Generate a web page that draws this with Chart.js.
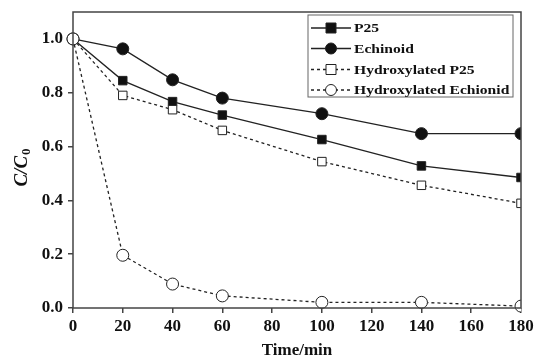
<!DOCTYPE html>
<html>
<head>
<meta charset="utf-8">
<script src="https://cdn.jsdelivr.net/npm/chart.js@4.4.0/dist/chart.umd.min.js"></script>
<style>
  html, body { margin: 0; padding: 0; background: #fff; }
  #wrap { width: 534px; height: 361px; position: relative; }
</style>
</head>
<body>
<div id="wrap"><canvas id="degradationChart"></canvas></div>
<script>
// Time points (min)
const timeMin = [0, 20, 40, 60, 100, 140, 180];

// C/C0 values
const p25 = [1.0, 0.845, 0.767, 0.717, 0.626, 0.528, 0.485];
const echinoid = [1.0, 0.963, 0.848, 0.78, 0.722, 0.648, 0.648];
const hydroxylatedP25 = [1.0, 0.79, 0.737, 0.66, 0.544, 0.456, 0.389];
const hydroxylatedEchionid = [1.0, 0.196, 0.089, 0.045, 0.021, 0.021, 0.007];

const yTicks = [0, 0.2, 0.4, 0.6, 0.8, 1.0];
const xTicks = [0, 20, 40, 60, 80, 100, 120, 140, 160, 180];

const seriesLabels = ['P25', 'Echinoid', 'Hydroxylated P25', 'Hydroxylated Echionid'];

const SERIF = '"Liberation Serif", "DejaVu Serif", serif';
const AXIS_COLOR = '#444';

/**
 * Build one dataset
 */
function makeDataset(label, values, style, fill, dashed, order) {
  return {
    label: label,
    data: timeMin.map((t, i) => ({ x: t, y: values[i] })),
    borderColor: '#222',
    borderWidth: 1.3,
    borderDash: dashed ? [3, 3] : [],
    pointStyle: style,
    pointRadius: 6,
    pointBackgroundColor: fill,
    pointBorderColor: '#222',
    pointBorderWidth: 1,
    order: order,
    clip: false
  };
}

// The source cuts markers off at the right edge only
const rightClip = {
  id: 'rightClip',
  beforeDatasetsDraw(chart) {
    const { ctx, chartArea: a } = chart;
    ctx.save();
    ctx.beginPath();
    ctx.rect(0, 0, a.right, chart.height);
    ctx.clip();
  },
  afterDatasetsDraw(chart) {
    chart.ctx.restore();
  }
};

// Box around the plot area
const frameBox = {
  id: 'frameBox',
  afterDatasetsDraw(chart) {
    const { ctx, chartArea: a } = chart;
    ctx.save();
    ctx.strokeStyle = AXIS_COLOR;
    ctx.lineWidth = 1.5;
    ctx.strokeRect(a.left, a.top, a.right - a.left, a.bottom - a.top);
    ctx.restore();
  }
};

// Y title with a subscript, plus the framed legend
const extras = {
  id: 'extras',
  afterDraw(chart) {
    const { ctx } = chart;
    ctx.save();

    // y axis title: C/C0
    ctx.translate(22, 168);
    ctx.rotate(-Math.PI / 2);
    ctx.fillStyle = '#111';
    ctx.textBaseline = 'middle';
    ctx.textAlign = 'left';
    ctx.font = 'italic bold 19px ' + SERIF;
    const main = 'C/C';
    const wMain = ctx.measureText(main).width;
    ctx.font = 'bold 13px ' + SERIF;
    const wSub = ctx.measureText('0').width;
    const x0 = -(wMain + wSub) / 2;
    ctx.font = 'italic bold 19px ' + SERIF;
    ctx.fillText(main, x0, 0);
    ctx.font = 'bold 13px ' + SERIF;
    ctx.fillText('0', x0 + wMain + 1, 5);
    ctx.restore();

    // legend
    ctx.save();
    const box = { left: 308, top: 15, right: 513, bottom: 97 };
    ctx.strokeStyle = '#666';
    ctx.lineWidth = 1;
    ctx.strokeRect(box.left, box.top, box.right - box.left, box.bottom - box.top);
    const rows = [28, 48.5, 69.5, 90];
    chart.data.datasets.forEach((ds, i) => {
      const y = rows[i];
      ctx.strokeStyle = '#222';
      ctx.lineWidth = 1.3;
      ctx.setLineDash(ds.borderDash);
      ctx.beginPath();
      ctx.moveTo(311, y);
      ctx.lineTo(351, y);
      ctx.stroke();
      ctx.setLineDash([]);
      ctx.fillStyle = ds.pointBackgroundColor;
      ctx.strokeStyle = '#222';
      ctx.lineWidth = 1;
      ctx.beginPath();
      if (ds.pointStyle === 'rect') {
        ctx.rect(326, y - 5, 10, 10);
      } else {
        ctx.arc(331, y, 5.5, 0, Math.PI * 2);
      }
      ctx.fill();
      ctx.stroke();

      // stretched label text
      ctx.save();
      ctx.translate(354, y + 1);
      ctx.scale(1.2, 1);
      ctx.fillStyle = '#111';
      ctx.font = 'bold 13px ' + SERIF;
      ctx.textAlign = 'left';
      ctx.textBaseline = 'middle';
      ctx.fillText(ds.label, 0, 0);
      ctx.restore();
    });
    ctx.restore();
  }
};

const canvas = document.getElementById('degradationChart');

new Chart(canvas, {
  type: 'line',
  data: {
    datasets: [
      makeDataset(seriesLabels[0], p25, 'rect', '#111', false, 3),
      makeDataset(seriesLabels[1], echinoid, 'circle', '#111', false, 4),
      makeDataset(seriesLabels[2], hydroxylatedP25, 'rect', '#fff', true, 2),
      makeDataset(seriesLabels[3], hydroxylatedEchionid, 'circle', '#fff', true, 1)
    ]
  },
  options: {
    responsive: true,
    maintainAspectRatio: false,
    animation: false,
    layout: { padding: { top: 12, right: 13, left: 0, bottom: 0 } },
    plugins: {
      legend: { display: false },
      tooltip: { enabled: false }
    },
    elements: {
      line: { tension: 0 }
    },
    scales: {
      x: {
        type: 'linear',
        min: 0,
        max: 180,
        afterBuildTicks: axis => { axis.ticks = xTicks.map(v => ({ value: v })); },
        afterFit: axis => {
          axis.height = 53;
          axis.paddingLeft = 0;
          axis.paddingRight = 0;
        },
        grid: {
          display: true,
          drawOnChartArea: false,
          drawTicks: true,
          tickLength: 5,
          color: AXIS_COLOR,
          lineWidth: 1.5
        },
        border: { display: false },
        ticks: {
          color: '#111',
          padding: 3,
          maxRotation: 0,
          font: { family: SERIF, size: 17, weight: 'bold' }
        },
        title: {
          display: true,
          text: 'Time/min',
          color: '#111',
          padding: { top: 4, bottom: 0 },
          font: { family: SERIF, size: 17, weight: 'bold' }
        }
      },
      y: {
        type: 'linear',
        min: 0,
        max: 1.1,
        afterBuildTicks: axis => { axis.ticks = yTicks.map(v => ({ value: v })); },
        afterFit: axis => {
          axis.width = 73;
          axis.paddingTop = 0;
          axis.paddingBottom = 0;
        },
        grid: {
          display: true,
          drawOnChartArea: false,
          drawTicks: true,
          tickLength: 5,
          color: AXIS_COLOR,
          lineWidth: 1.5
        },
        border: { display: false },
        ticks: {
          color: '#111',
          padding: 5,
          callback: v => v.toFixed(1),
          font: { family: SERIF, size: 17, weight: 'bold' }
        }
      }
    }
  },
  plugins: [rightClip, frameBox, extras]
});
</script>
</body>
</html>
